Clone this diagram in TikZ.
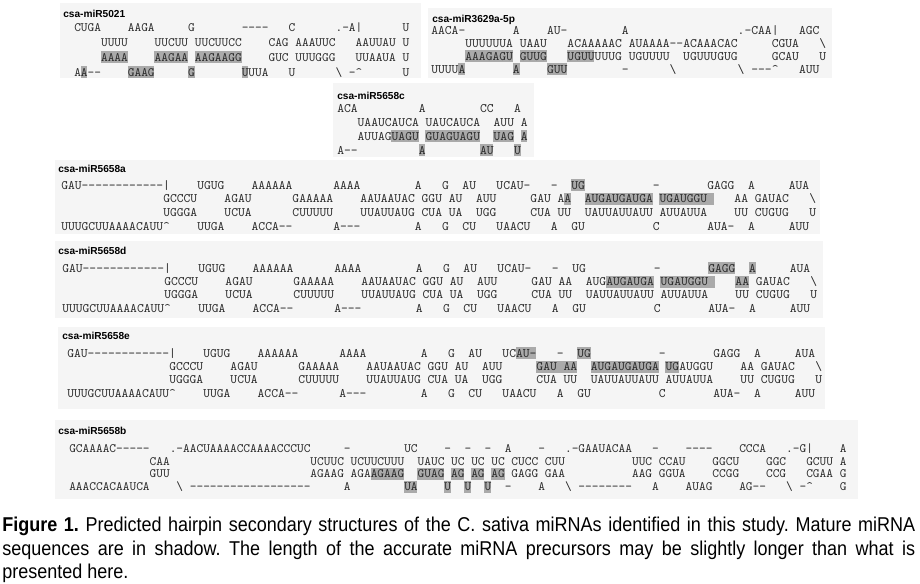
\documentclass[tikz,border=0pt]{standalone}
\usepackage{fontspec}
\setsansfont{Liberation Sans}
\setmonofont{Latin Modern Mono}
\newfontfamily\capfont{Liberation Sans}[FakeStretch=0.9]
\definecolor{panel}{HTML}{F5F5F5}
\definecolor{shadow}{HTML}{AAAAAA}
\definecolor{base}{HTML}{2A2A2A}
\tikzset{
  panelbox/.style={fill=panel, draw=none},
  mature/.style={fill=shadow},
  seq/.style={font=\ttfamily\fontsize{#1}{#1}\selectfont, anchor=base west, inner sep=0pt, text=base},
  title/.style={font=\sffamily\bfseries\fontsize{7.6}{9}\selectfont, anchor=base west, inner sep=0pt},
  captext/.style={font=\capfont\fontsize{15}{17}\selectfont\frenchspacing, anchor=base west, inner sep=0pt}
}
% one row of a hairpin: column/text pairs
\newcommand\seqrow[3]{\foreach \col/\txt in {#3} \node[seq=\fs] (#1-#2-\col) at (\col,#2) {\txt};}
% grey shadow under the mature part of a row
\newcommand\shaderow[2]{\foreach \sa/\sb in {#2} \fill[mature] ([yshift=-1.5pt]\sa,#1) rectangle ([yshift=7.5pt]\sb+1,#1);}
% the precursor shared by miR5658a, d and e
\newcommand\stemA[1]{%
  \seqrow{#1}{0}{0/GAU------------|, 20/UGUG, 28/AAAAAA, 40/AAAA, 52/A, 56/G, 59/AU, 64/UCAU-, 72/-, 75/UG, 87/-, 95/GAGG, 101/A, 107/AUA}%
  \seqrow{#1}{1}{15/GCCCU, 24/AGAU, 34/GAAAAA, 44/AAUAAUAC, 53/GGU, 57/AU, 61/AUU, 69/GAU, 73/AA, 77/AUGAUGAUGA, 88/UGAUGGU, 99/AA, 102/GAUAC, 110/\textbackslash}%
  \seqrow{#1}{2}{15/UGGGA, 24/UCUA, 34/CUUUUU, 44/UUAUUAUG, 53/CUA, 57/UA, 61/UGG, 69/CUA, 73/UU, 77/UAUUAUUAUU, 88/AUUAUUA, 99/UU, 102/CUGUG, 110/U}%
  \seqrow{#1}{3}{0/UUUGCUUAAAACAUU\textasciicircum, 20/UUGA, 28/ACCA--, 40/A---, 52/A, 56/G, 59/CU, 64/UAACU, 72/A, 75/GU, 87/C, 95/AUA-, 101/A, 107/AUU}}

\begin{document}
\begin{tikzpicture}[x=0.75pt, y=-0.75pt]
  \fill[white] (0,0) rectangle (920,583);
  \useasboundingbox (0,0) rectangle (920,583);

  % Panels
  \fill[panelbox] (60,3) rectangle (421,78);
  \fill[panelbox] (428,8) rectangle (832,78);
  \fill[panelbox] (333,83) rectangle (534,157);
  \fill[panelbox] (55,160) rectangle (820,234);
  \fill[panelbox] (55,241) rectangle (823,318);
  \fill[panelbox] (58,327) rectangle (825,409);
  \fill[panelbox] (55,420) rectangle (858,499);

  % Titles
  \node[title] (t5021) at (63,17) {csa-miR5021};
  \node[title] (t3629) at (432,22) {csa-miR3629a-5p};
  \node[title] (t5658c) at (337,99) {csa-miR5658c};
  \node[title] (t5658a) at (58,172) {csa-miR5658a};
  \node[title] (t5658d) at (58,254) {csa-miR5658d};
  \node[title] (t5658e) at (62,339) {csa-miR5658e};
  \node[title] (t5658b) at (58,434) {csa-miR5658b};

  % csa-miR5021
  \begin{scope}[shift={(74,31)}, x=5.025pt, y=-11.25pt]
    \def\fs{9.57}
    \shaderow{2}{4/7, 12/16, 18/24}
    \shaderow{3}{1/1, 8/11, 17/17, 25/25}
    \seqrow{a}{0}{0/CUGA, 8/AAGA, 17/G, 25/----, 32/C, 39/.-A|, 49/U}
    \seqrow{a}{1}{4/UUUU, 12/UUCUU, 18/UUCUUCC, 29/CAG, 33/AAAUUC, 42/AAUUAU, 49/U}
    \seqrow{a}{2}{4/AAAA, 12/AAGAA, 18/AAGAAGG, 29/GUC, 33/UUUGGG, 42/UUAAUA, 49/U}
    \seqrow{a}{3}{0/AA--, 8/GAAG, 17/G, 25/UUUA, 32/U, 39/\textbackslash, 41/-\textasciicircum, 49/U}
  \end{scope}

  % csa-miR3629a-5p
  \begin{scope}[shift={(431,34)}, x=5.1075pt, y=-9.825pt]
    \def\fs{9.73}
    \shaderow{2}{5/11, 13/16, 20/23}
    \shaderow{3}{4/4, 12/12, 17/19}
    \seqrow{b}{0}{0/AACA-, 12/A, 17/AU-, 28/A, 45/.-CAA|, 54/AGC}
    \seqrow{b}{1}{5/UUUUUUA, 13/UAAU, 20/ACAAAAAC, 29/AUAAAA--ACAAACAC, 50/CGUA, 57/\textbackslash}
    \seqrow{b}{2}{5/AAAGAGU, 13/GUUG, 20/UGUUUUUG, 29/UGUUUU, 37/UGUUUGUG, 50/GCAU, 57/U}
    \seqrow{b}{3}{0/UUUUA, 12/A, 17/GUU, 28/-, 35/\textbackslash, 45/\textbackslash, 47/---\textasciicircum, 54/AUU}
  \end{scope}

  % csa-miR5658c
  \begin{scope}[shift={(337,112.3)}, x=5.1pt, y=-10.425pt]
    \def\fs{9.71}
    \shaderow{2}{8/11, 13/20, 23/25, 27/27}
    \shaderow{3}{12/12, 21/22, 26/26}
    \seqrow{c}{0}{0/ACA, 12/A, 21/CC, 26/A}
    \seqrow{c}{1}{3/UAAUCAUCA, 13/UAUCAUCA, 23/AUU, 27/A}
    \seqrow{c}{2}{3/AUUAGUAGU, 13/GUAGUAGU, 23/UAG, 27/A}
    \seqrow{c}{3}{0/A--, 12/A, 21/AU, 26/U}
  \end{scope}

  % csa-miR5658a
  \begin{scope}[shift={(61,189)}, x=5.1pt, y=-10.375pt]
    \def\fs{9.71}
    \shaderow{0}{75/76}
    \shaderow{1}{74/74, 77/86, 88/95}
    \stemA{d}
  \end{scope}

  % csa-miR5658d
  \begin{scope}[shift={(62,272.3)}, x=5.1pt, y=-10pt]
    \def\fs{9.71}
    \shaderow{0}{95/98, 101/101}
    \shaderow{1}{80/86, 88/95, 99/100}
    \stemA{e}
  \end{scope}

  % csa-miR5658e
  \begin{scope}[shift={(67,357.3)}, x=5.1pt, y=-10pt]
    \def\fs{9.71}
    \shaderow{0}{66/68, 75/76}
    \shaderow{1}{69/74, 77/86, 88/89}
    \stemA{f}
  \end{scope}

  % csa-miR5658b
  \begin{scope}[shift={(69,452.3)}, x=5.025pt, y=-9.6pt]
    \def\fs{9.57}
    \shaderow{2}{45/49, 52/55, 57/58, 60/61, 63/64}
    \shaderow{3}{50/51, 56/56, 59/59, 62/62}
    \seqrow{g}{0}{0/GCAAAAC-----, 15/.-AACUAAAACCAAAACCCUC, 41/-, 50/UC, 56/-, 59/-, 62/-, 65/A, 70/-, 74/.-GAAUACAA, 87/-, 92/----, 100/CCCA, 107/.-G|, 115/A}
    \seqrow{g}{1}{12/CAA, 36/UCUUC, 42/UCUUCUUU, 52/UAUC, 57/UC, 60/UC, 63/UC, 66/CUCC, 71/CUU, 84/UUC, 88/CCAU, 96/GGCU, 104/GGC, 110/GCUU, 115/A}
    \seqrow{g}{2}{12/GUU, 36/AGAAG, 42/AGAAGAAG, 52/GUAG, 57/AG, 60/AG, 63/AG, 66/GAGG, 71/GAA, 84/AAG, 88/GGUA, 96/CCGG, 104/CCG, 110/CGAA, 115/G}
    \seqrow{g}{3}{0/AAACCACAAUCA, 16/\textbackslash, 18/------------------, 41/A, 50/UA, 56/U, 59/U, 62/U, 65/-, 70/A, 74/\textbackslash, 76/--------, 87/A, 92/AUAG, 100/AG--, 107/\textbackslash, 109/-\textasciicircum, 115/G}
  \end{scope}

  % Caption
  \node[captext] (cap1) at (2,531.5) {\makebox[684.75pt][s]{\textbf{Figure 1.} Predicted hairpin secondary structures of the C. sativa miRNAs identified in this study. Mature miRNA}};
  \node[captext] (cap2) at (2,555) {\makebox[684.75pt][s]{sequences are in shadow. The length of the accurate miRNA precursors may be slightly longer than what is}};
  \node[captext] (cap3) at (2,578.5) {presented here.};
\end{tikzpicture}
\end{document}
